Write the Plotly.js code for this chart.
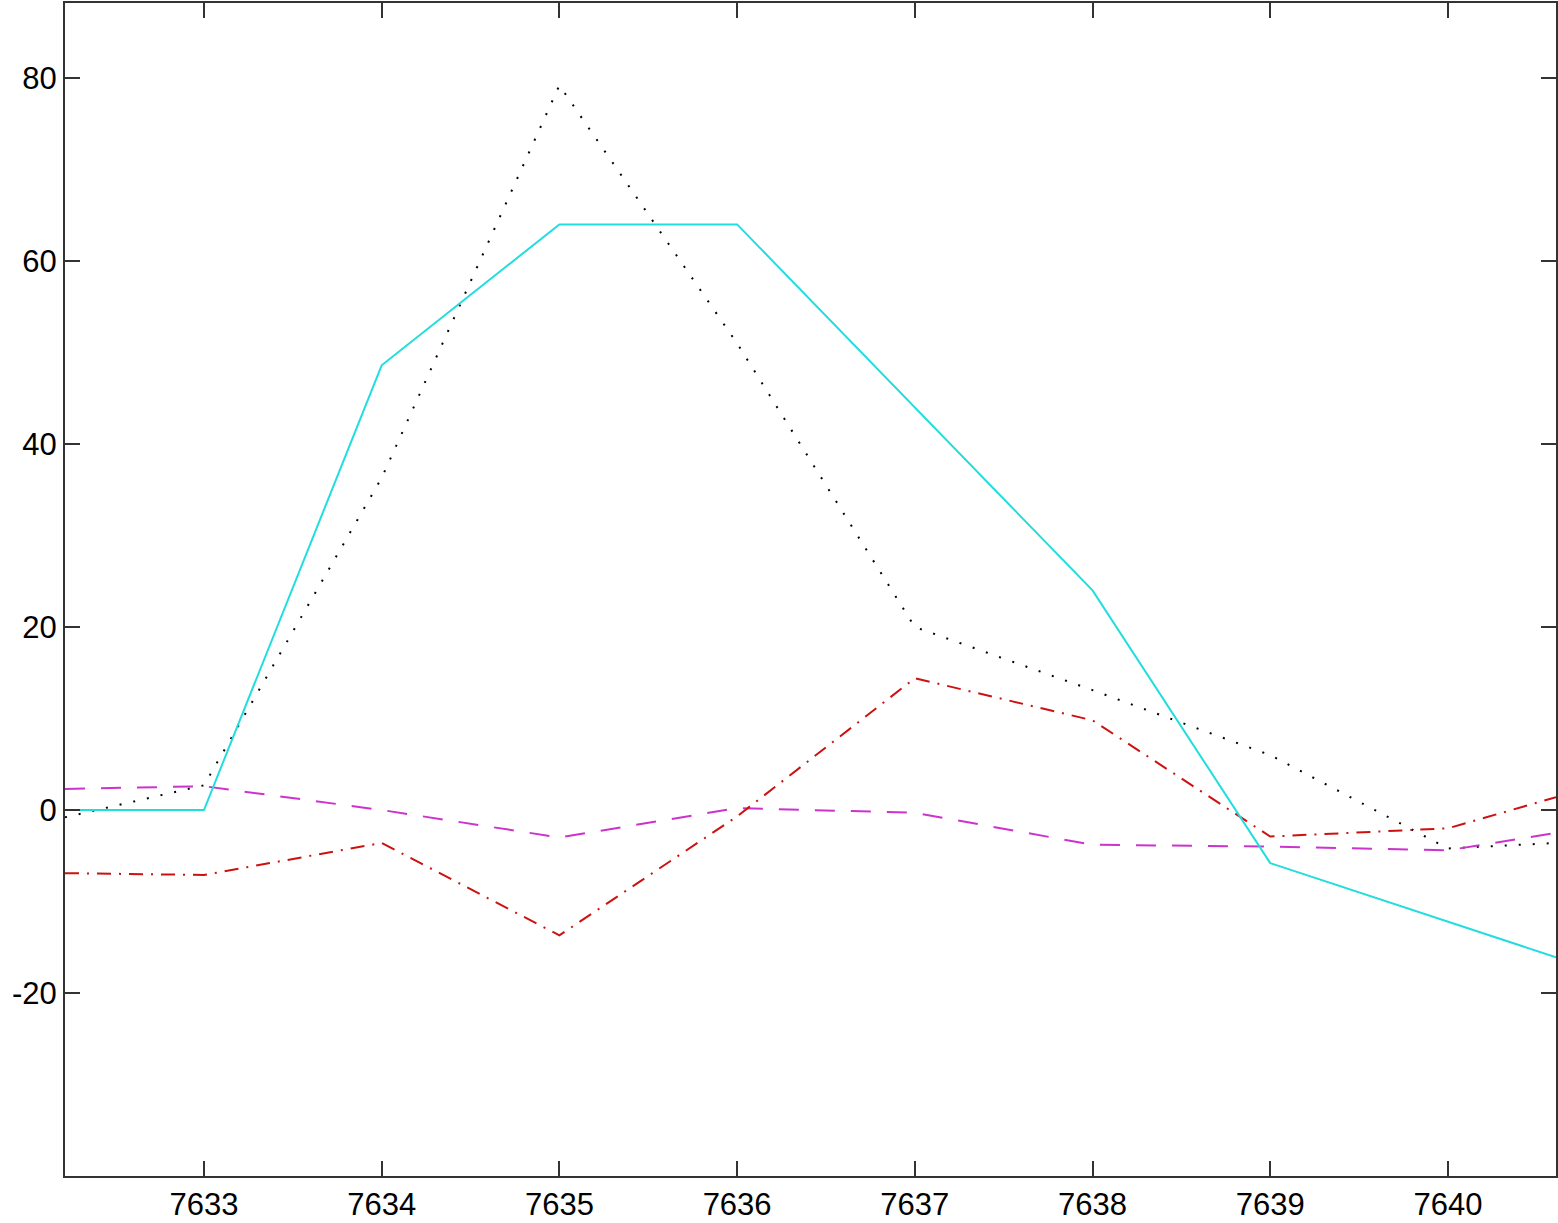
<!DOCTYPE html>
<html>
<head>
<meta charset="utf-8">
<script src="https://cdn.plot.ly/plotly-3.0.1.min.js"></script>
<style>html,body{margin:0;padding:0;background:#fff;}#chart{width:1558px;height:1223px;}</style>
</head>
<body>
<div id="chart"></div>
<script>
const xValues = [7632.218, 7633, 7634, 7635, 7636, 7637, 7638, 7639, 7640, 7640.608];
const cyanSeries = [0, 0, 48.6, 64, 64, 44, 24, -5.8, -12.2, -16.1];
const blackSeries = [-0.8, 2.7, 36.3, 79.2, 51, 20, 13.1, 6.0, -4.2, -3.6];
const redSeries = [-6.9, -7.1, -3.6, -13.7, -0.7, 14.4, 9.8, -2.9, -2.0, 1.4];
const magentaSeries = [2.3, 2.6, 0.0, -3.0, 0.2, -0.3, -3.8, -4.0, -4.4, -2.5];
const xTicks = [7633, 7634, 7635, 7636, 7637, 7638, 7639, 7640];
const yTicks = [-20, 0, 20, 40, 60, 80];
const xRange = [7632.218, 7640.608];
const yRange = [-40, 88.2];

const traces = [
  {x: xValues, y: blackSeries, mode: 'lines', line: {color: '#000000', width: 2, dash: '2px,12px'}},
  {x: xValues, y: magentaSeries, mode: 'lines', line: {color: '#cc33cc', width: 2, dash: '20px,16px'}},
  {x: xValues, y: redSeries, mode: 'lines', line: {color: '#cc1111', width: 2, dash: '14px,8px,2px,8px'}},
  {x: xValues, y: cyanSeries, mode: 'lines', line: {color: '#22dddd', width: 2}}
];

const axisCommon = {
  showgrid: false, zeroline: false, showline: true, linecolor: '#333', linewidth: 2,
  mirror: 'ticks', ticks: 'inside', ticklen: 15, tickwidth: 2, tickcolor: '#333',
  tickfont: {family: 'Liberation Sans, Arial, sans-serif', size: 31, color: '#000'}
};

const layout = {
  width: 1558, height: 1223,
  margin: {l: 65, r: 2, t: 3, b: 47},
  paper_bgcolor: '#fff', plot_bgcolor: '#fff',
  showlegend: false,
  xaxis: Object.assign({}, axisCommon, {range: xRange, tickvals: xTicks, ticktext: xTicks.map(String)}),
  yaxis: Object.assign({}, axisCommon, {range: yRange, tickvals: yTicks, ticktext: yTicks.map(String)})
};

Plotly.newPlot('chart', traces, layout, {staticPlot: true, displayModeBar: false});
</script>
</body>
</html>
